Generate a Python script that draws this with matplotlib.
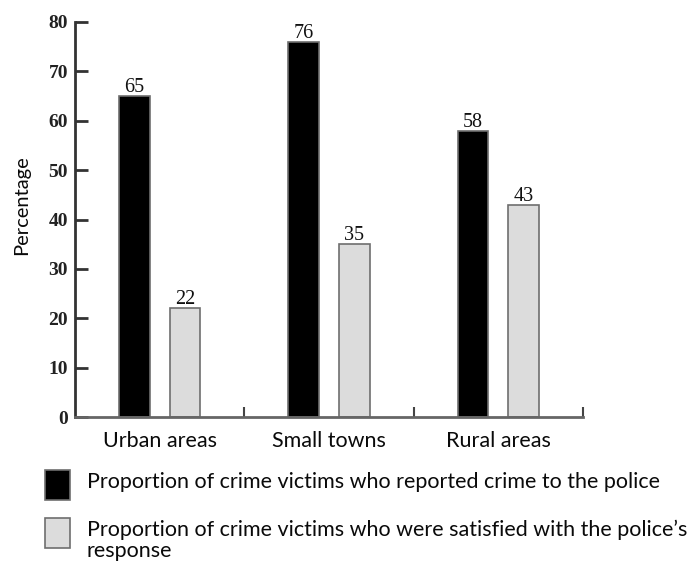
import matplotlib
matplotlib.use("Agg")
import matplotlib.pyplot as plt
from matplotlib.patches import Rectangle
import numpy as np

categories = ["Urban areas", "Small towns", "Rural areas"]
reported = [65, 76, 58]
satisfied = [22, 35, 43]
series_labels = [
    "Proportion of crime victims who reported crime to the police",
    "Proportion of crime victims who were satisfied with the police\u2019s\nresponse",
]
yticks = [0, 10, 20, 30, 40, 50, 60, 70, 80]

W, H = 688, 567
fig = plt.figure(figsize=(W / 100, H / 100), dpi=100)
ax = fig.add_axes([75 / W, 1 - 417 / H, (583 - 75) / W, (417 - 22) / H])

sans = ["Lato", "DejaVu Sans"]
serif = ["Liberation Serif", "DejaVu Serif"]

x = np.arange(len(categories))
bw = 0.18
off = 0.15
colors = ["#000000", "#dcdcdc"]
for vals, dx, c in [(reported, -off, colors[0]), (satisfied, off, colors[1])]:
    bars = ax.bar(x + dx, vals, width=bw, color=c, edgecolor="#6e6e6e", linewidth=1.2)
    for b, v in zip(bars, vals):
        ax.text(b.get_x() + b.get_width() / 2, v - 0.2, str(v), ha="center", va="bottom",
                fontsize=14.5, family=serif, color="#111111")

ax.set_xlim(-0.5, 2.5)
ax.set_ylim(0, 80)
ax.set_yticks(yticks)
ax.set_yticklabels([str(t) for t in yticks], family=serif, fontsize=14, fontweight="bold",
                   color="#222222")
ax.set_xticks(x)
ax.set_xticklabels(categories, family=sans, fontsize=15.5, color="#0a0a0a")
ax.set_xticks([0.5, 1.5, 2.5], minor=True)
ax.tick_params(axis="x", which="major", length=0, pad=10)
ax.tick_params(axis="x", which="minor", direction="in", length=7, width=1.5, color="#444444")
ax.tick_params(axis="y", direction="in", length=9, width=2, color="#333333", pad=5)

for s in ["top", "right"]:
    ax.spines[s].set_visible(False)
ax.spines["left"].set_color("#333333")
ax.spines["left"].set_linewidth(2)
ax.spines["bottom"].set_color("#666666")
ax.spines["bottom"].set_linewidth(2)

fig.text(22 / W, 1 - 205 / H, "Percentage", rotation=90, ha="center", va="center",
         family=sans, fontsize=14.5, color="#0a0a0a")

# legend keys drawn in figure coordinates
key_y = [470, 518]
for ky, c, lab in zip(key_y, colors, series_labels):
    fig.patches.append(Rectangle((45 / W, 1 - (ky + 30) / H), 25 / W, 30 / H,
                                 transform=fig.transFigure, facecolor=c,
                                 edgecolor="#6e6e6e", linewidth=1.2))
    fig.text(87 / W, 1 - (ky + 2) / H, lab, ha="left", va="top", family=sans,
             fontsize=15.5, color="#0a0a0a", linespacing=1.05)

fig.savefig("out.png", dpi=100)
